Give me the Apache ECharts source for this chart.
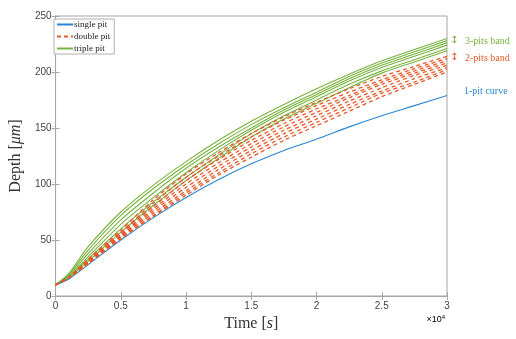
<!DOCTYPE html>
<html>
<head>
<meta charset="utf-8">
<script src="https://cdn.jsdelivr.net/npm/echarts@6/dist/echarts.min.js"></script>
<style>
  html, body { margin: 0; padding: 0; background: #fff; }
  #chart { width: 516px; height: 339px; }
</style>
</head>
<body>
<div id="chart"></div>
<script>
// time samples (s)
var times = [0, 1000, 2500, 5000, 7500, 10000, 12500, 15000, 17500, 20000, 22500, 25000, 27500, 30000];

// 1 pit
var singlePit = [10, 15, 28, 50, 70, 88, 104, 118, 130, 140, 151, 161, 170, 179];

// 2 pits (dashed band)
var doublePit = [
  [10, 17, 33, 59, 86, 109, 128, 145, 160, 173, 185, 196, 205, 214],
  [10, 17, 32, 57, 83, 106, 125, 142, 157, 170, 182, 193, 203, 212],
  [10, 16, 31, 56, 80, 103, 122, 139, 154, 167, 179, 191, 201, 210],
  [10, 16, 30, 55, 78, 100, 119, 136, 151, 164, 177, 189, 199, 208],
  [10, 16, 30, 54, 76, 97, 116, 133, 148, 161, 174, 186, 197, 206],
  [10, 16, 29, 53, 74, 94, 113, 130, 145, 158, 171, 183, 194, 204],
  [10, 16, 29, 52, 72, 92, 110, 127, 142, 155, 168, 181, 191, 202],
  [10, 16, 29, 51, 71, 90, 108, 124, 139, 152, 165, 178, 189, 200]
];

// 3 pits (solid band)
var triplePit = [
  [10, 20, 44, 75, 99, 120, 139, 156, 171, 185, 198, 210, 220, 230],
  [10, 19, 41, 72, 96, 117, 136, 153, 168, 182, 196, 208, 218, 228],
  [10, 18, 38, 68, 92, 114, 133, 150, 166, 180, 194, 206, 216, 226],
  [10, 17, 35, 64, 88, 110, 130, 148, 164, 178, 192, 204, 214, 224],
  [10, 17, 33, 60, 84, 106, 126, 145, 161, 175, 189, 201, 211, 221],
  [10, 16, 31, 57, 81, 103, 123, 142, 158, 172, 186, 199, 209, 219]
];

var legendNames = ['single pit', 'double pit', 'triple pit'];
var xTicks = [0, 30000, 5000];
var yTicks = [0, 250, 50];

var blue = '#2a86d1', orange = '#e6592a', green = '#78b23e';

function pairs(vals) {
  return vals.map(function (v, i) { return [times[i], v]; });
}

function lineSeries(name, vals, color, dashed) {
  return {
    name: name,
    type: 'line',
    data: pairs(vals),
    smooth: 0.25,
    showSymbol: false,
    symbol: 'none',
    z: dashed ? 3 : 2,
    lineStyle: { color: color, width: dashed ? 1.3 : 1.1, type: dashed ? [4, 3] : 'solid' },
    itemStyle: { color: color }
  };
}

var series = [];
triplePit.forEach(function (v) { series.push(lineSeries('triple pit', v, green, false)); });
doublePit.forEach(function (v) { series.push(lineSeries('double pit', v, orange, true)); });
series.push(lineSeries('single pit', singlePit, blue, false));

var serif = 'Liberation Serif, DejaVu Serif, serif';
var sans = 'Liberation Sans, Arial, sans-serif';
var frame = '#a6a6a6';

var myChart = echarts.init(document.getElementById('chart'));

var option = {
  backgroundColor: '#fff',
  animation: false,
  grid: { left: 51, right: 69, top: 16, bottom: 43, show: true, borderColor: frame, borderWidth: 1 },
  legend: {
    data: legendNames,
    left: 54, top: 19,
    orient: 'vertical',
    backgroundColor: '#fff',
    borderColor: '#b0b0b0', borderWidth: 1,
    padding: [1, 4, 1, 2],
    itemGap: 3,
    itemWidth: 16, itemHeight: 8,
    itemStyle: { opacity: 0 },
    textStyle: { fontFamily: serif, fontSize: 9, color: '#222', padding: [0, 0, 0, -4] }
  },
  xAxis: [{
    type: 'value', min: xTicks[0], max: xTicks[1], interval: xTicks[2],
    name: '{n|Time [}{i|s}{n|]}', nameLocation: 'middle', nameGap: 19,
    nameTextStyle: { rich: {
      n: { fontFamily: serif, fontSize: 16, color: '#333' },
      i: { fontFamily: serif, fontSize: 16, fontStyle: 'italic', color: '#333' }
    } },
    axisLine: { lineStyle: { color: frame } },
    axisTick: { inside: true, length: 4, lineStyle: { color: frame } },
    axisLabel: { fontFamily: sans, fontSize: 10, color: '#444', margin: 5,
      formatter: function (v) { return String(v / 10000); } },
    splitLine: { show: false }
  }, {
    type: 'value', position: 'top', min: xTicks[0], max: xTicks[1], interval: xTicks[2],
    axisLine: { lineStyle: { color: frame } },
    axisTick: { inside: true, length: 4, lineStyle: { color: frame } },
    axisLabel: { show: false }, splitLine: { show: false }
  }],
  yAxis: [{
    type: 'value', min: yTicks[0], max: yTicks[1], interval: yTicks[2],
    name: '{n|Depth [}{i|μm}{n|]}', nameLocation: 'middle', nameGap: 28,
    nameTextStyle: { rich: {
      n: { fontFamily: serif, fontSize: 16, color: '#333' },
      i: { fontFamily: serif, fontSize: 16, fontStyle: 'italic', color: '#333' }
    } },
    axisLine: { show: true, lineStyle: { color: frame } },
    axisTick: { show: true, inside: true, length: 4, lineStyle: { color: frame } },
    axisLabel: { fontFamily: sans, fontSize: 10, color: '#444', margin: 4 },
    splitLine: { show: false }
  }, {
    type: 'value', position: 'right', min: yTicks[0], max: yTicks[1], interval: yTicks[2],
    axisLine: { show: true, lineStyle: { color: frame } },
    axisTick: { show: true, inside: true, length: 4, lineStyle: { color: frame } },
    axisLabel: { show: false }, splitLine: { show: false }
  }],
  graphic: [
    { type: 'text', right: 71, top: 314,
      style: { text: '{a|×10}{b|4}', rich: {
        a: { fontFamily: sans, fontSize: 9, color: '#555' },
        b: { fontFamily: sans, fontSize: 6, color: '#555', verticalAlign: 'top', padding: [0, 0, 5, 0] }
      } } },
    { type: 'text', left: 450, top: 35, style: { text: '↕', fontSize: 10, fill: green, fontFamily: 'DejaVu Sans' } },
    { type: 'text', left: 465, top: 36, style: { text: '3-pits band', fontSize: 10, fill: green, fontFamily: serif } },
    { type: 'text', left: 450, top: 52, style: { text: '↕', fontSize: 10, fill: orange, fontFamily: 'DejaVu Sans' } },
    { type: 'text', left: 465, top: 53, style: { text: '2-pits band', fontSize: 10, fill: orange, fontFamily: serif } },
    { type: 'text', left: 464, top: 86, style: { text: '1-pit curve', fontSize: 10, fill: blue, fontFamily: serif } }
  ],
  series: series
};

myChart.setOption(option);
</script>
</body>
</html>
